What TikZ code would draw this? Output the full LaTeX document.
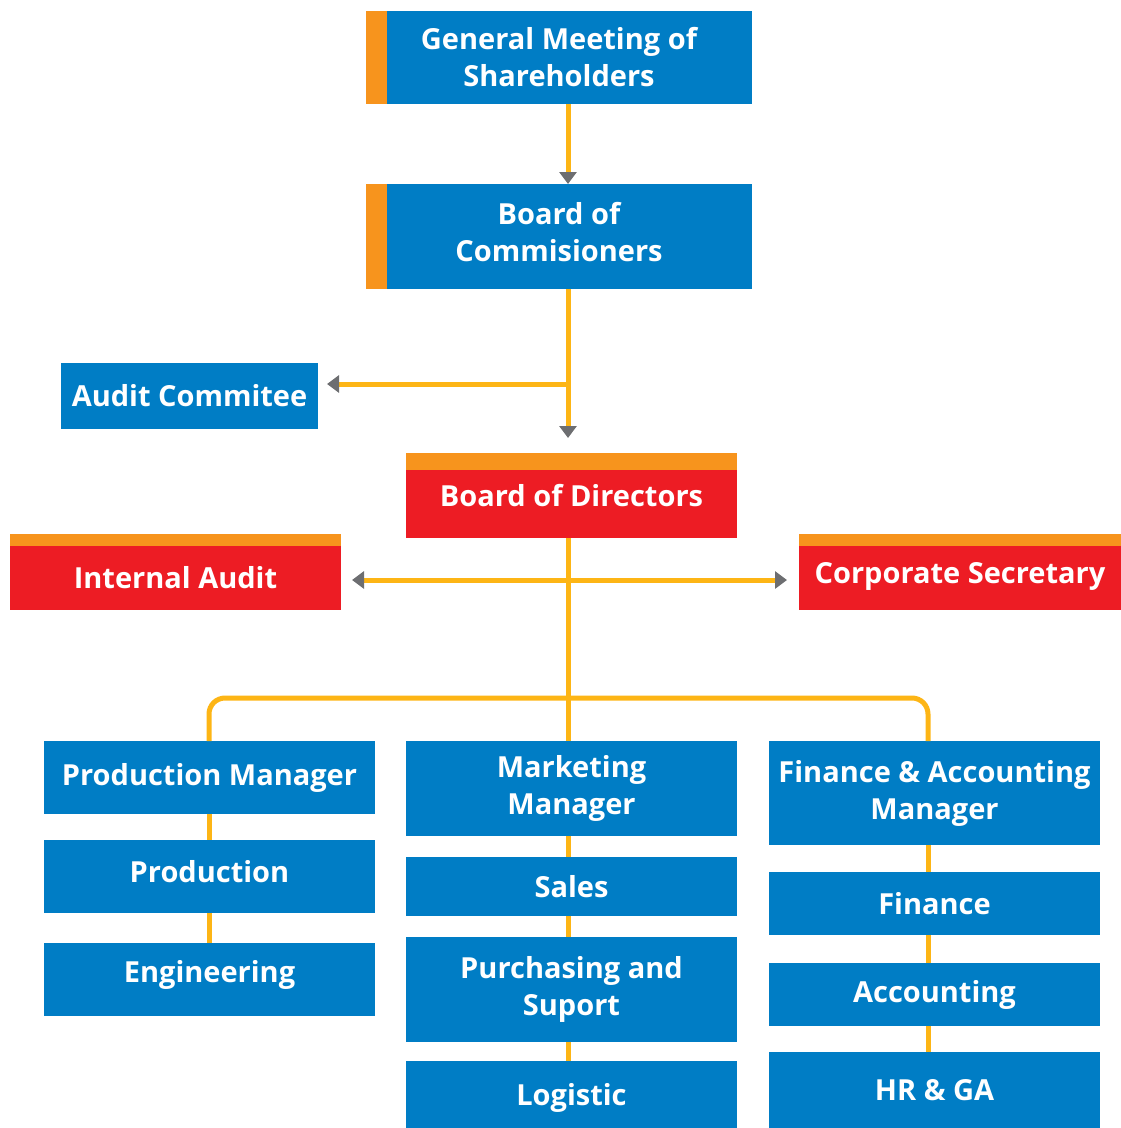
\documentclass[tikz,border=0pt]{standalone}
\usepackage{fontspec}
\setmainfont{Open Sans}
\usetikzlibrary{arrows.meta}
\definecolor{cblue}{RGB}{0,125,197}
\definecolor{cred}{RGB}{237,28,36}
\definecolor{corange}{RGB}{247,148,29}
\definecolor{cline}{RGB}{253,181,21}
\definecolor{cgray}{RGB}{109,110,113}
\newcommand\liftby[2]{\raisebox{#1}[\height][\depth]{#2}}
\begin{document}
\begin{tikzpicture}[x=1pt,y=-1pt,
 box/.style={draw=none, inner sep=0pt, outer sep=0pt, anchor=north west, align=center, text=white, font=\fontsize{29}{37}\selectfont\bfseries},
 bluebox/.style={box, fill=cblue},
 redbox/.style={box, fill=cred},
 bar/.style={fill=corange, draw=none},
 conn/.style={draw=cline, line width=5pt},
 arr/.style={conn, -{Triangle[width=17pt,length=12pt,color=cgray]}}
]
\useasboundingbox (0,0) rectangle (1121,1128);
\coordinate (spine) at (568,0);
\coordinate (lx) at (209,0);
\coordinate (rx) at (928,0);
\coordinate (bus) at (0,698);
\coordinate (j1) at (568,384);
\coordinate (j2) at (568,580);

% boxes
\node[bluebox, minimum width=386pt, minimum height=93pt] (gms) at (366,11) {General Meeting of\\Shareholders};
\fill[bar] (366,11) rectangle (387,104);
\node[bluebox, minimum width=386pt, minimum height=105pt, text depth=10pt] (boc) at (366,184) {Board of\\Commisioners};
\fill[bar] (366,184) rectangle (387,289);
\node[bluebox, minimum width=257pt, minimum height=66pt] (audit) at (61,363) {Audit Commitee};
\node[redbox, minimum width=331pt, minimum height=85pt] (bod) at (406,453) {Board of Directors};
\fill[bar] (406,453) rectangle (737,470);
\node[redbox, minimum width=331pt, minimum height=64pt] (ia) at (10,546) {Internal Audit};
\fill[bar] (10,534) rectangle (341,546);
\node[redbox, minimum width=322pt, minimum height=64pt] (cs) at (799,546) {\liftby{2pt}{Corporate Secretary}};
\fill[bar] (799,534) rectangle (1121,546);

\node[bluebox, minimum width=331pt, minimum height=73pt] (pm) at (44,741) {Production Manager};
\node[bluebox, minimum width=331pt, minimum height=73pt] (prod) at (44,840) {\liftby{5pt}{Production}};
\node[bluebox, minimum width=331pt, minimum height=73pt] (eng) at (44,943) {\liftby{5pt}{Engineering}};

\node[bluebox, minimum width=331pt, minimum height=95pt] (mm) at (406,741) {Marketing\\Manager};
\node[bluebox, minimum width=331pt, minimum height=59pt] (sales) at (406,857) {Sales};
\node[bluebox, minimum width=331pt, minimum height=105pt] (pur) at (406,937) {Purchasing and\\Suport};
\node[bluebox, minimum width=331pt, minimum height=67pt] (log) at (406,1061) {\liftby{-3pt}{Logistic}};

\node[bluebox, minimum width=331pt, minimum height=104pt] (fam) at (769,741) {Finance \& Accounting\\Manager};
\node[bluebox, minimum width=331pt, minimum height=63pt] (fin) at (769,872) {Finance};
\node[bluebox, minimum width=331pt, minimum height=63pt] (acc) at (769,963) {Accounting};
\node[bluebox, minimum width=331pt, minimum height=76pt] (hr) at (769,1052) {HR \& GA};

% connectors
\draw[arr] (gms.south -| spine) -- (boc.north -| spine);
\draw[arr, shorten >=15pt] (boc.south -| spine) -- (bod.north -| spine);
\draw[arr, shorten >=9pt] (j1) -- (audit.east |- j1);
\draw[arr, shorten >=11pt] (j2) -- (ia.east |- j2);
\draw[arr, shorten >=12pt] (j2) -- (cs.west |- j2);
\draw[conn] (bod.south -| spine) -- (mm.north -| spine);
\draw[conn, rounded corners=16pt] (pm.north -| lx) -- (lx |- bus) -- (rx |- bus) -- (fam.north -| rx);
\draw[conn] (pm.south -| lx) -- (prod.north -| lx);
\draw[conn] (prod.south -| lx) -- (eng.north -| lx);
\draw[conn] (mm.south -| spine) -- (sales.north -| spine);
\draw[conn] (sales.south -| spine) -- (pur.north -| spine);
\draw[conn] (pur.south -| spine) -- (log.north -| spine);
\draw[conn] (fam.south -| rx) -- (fin.north -| rx);
\draw[conn] (fin.south -| rx) -- (acc.north -| rx);
\draw[conn] (acc.south -| rx) -- (hr.north -| rx);
\end{tikzpicture}
\end{document}
